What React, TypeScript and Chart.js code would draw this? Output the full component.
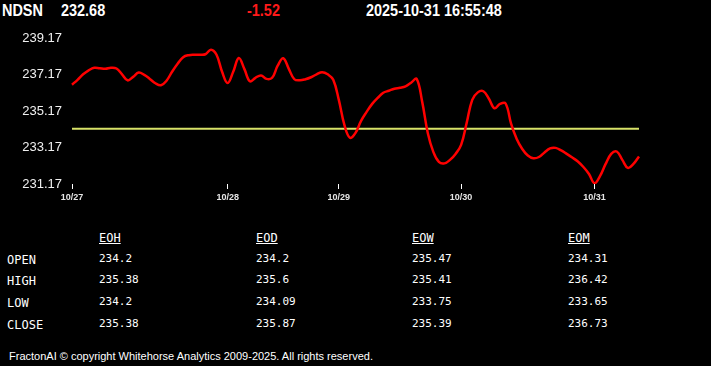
import React, { useEffect, useRef } from 'react';
import { Chart, registerables } from 'chart.js';

Chart.register(...registerables);

const symbol = 'NDSN';
const lastPrice = '232.68';
const priceChange = '-1.52';
const timestamp = '2025-10-31 16:55:48';

const days = ['10/27', '10/28', '10/29', '10/30', '10/31'];
const pointsPerDay = [28, 20, 22, 24, 9];

const prices = [
  236.61, 236.88, 237.18, 237.40, 237.54, 237.51, 237.48, 237.54, 237.50, 237.18,
  236.85, 237.04, 237.28, 237.15, 236.93, 236.69, 236.58, 236.83, 237.32, 237.76,
  238.12, 238.23, 238.25, 238.25, 238.28, 238.53, 238.25, 237.32,
  236.70, 237.32, 238.07, 237.48, 236.80, 236.99, 237.12, 236.93, 236.99, 237.65,
  238.06, 237.48, 236.91, 236.85, 236.91, 237.02, 237.18, 237.30, 237.18, 236.88,
  235.78, 234.41, 233.70, 233.97, 234.63, 235.12, 235.56, 235.89, 236.17, 236.28,
  236.39, 236.44, 236.52, 236.72, 236.93, 235.67, 233.97, 232.93, 232.38, 232.30,
  232.49, 232.82,
  233.31, 234.52, 235.78, 236.19, 236.25, 235.84, 235.32, 235.56, 235.58, 234.46,
  233.64, 233.09, 232.73, 232.58, 232.65, 232.90, 233.12, 233.15, 233.01, 232.82,
  232.62, 232.40, 232.10, 231.72,
  231.21, 231.61, 232.27, 232.82, 232.95, 232.49, 232.05, 232.27, 232.68,
];

const referenceLevel = 234.2;
const yMin = 231.17;
const yMax = 239.17;
const yStep = 2;

const tableColumns = ['EOH', 'EOD', 'EOW', 'EOM'];
const tableRows = ['OPEN', 'HIGH', 'LOW', 'CLOSE'];
const eohValues = ['234.2', '235.38', '234.2', '235.38'];
const eodValues = ['234.2', '235.6', '234.09', '235.87'];
const eowValues = ['235.47', '235.41', '233.75', '235.39'];
const eomValues = ['234.31', '236.42', '233.65', '236.73'];
const tableValues = [eohValues, eodValues, eowValues, eomValues];

const footerText = 'FractonAI \u00A9 copyright Whitehorse Analytics 2009-2025. All rights reserved.';

// build category labels: day label at first point of each day
const labels: string[] = [];
days.forEach((d, di) => {
  for (let k = 0; k < pointsPerDay[di]; k++) labels.push(k === 0 ? d : '');
});

const sansFont = "'Liberation Sans', Arial, sans-serif";
const monoFont = "'DejaVu Sans Mono', 'Liberation Mono', monospace";

const colLeft = [99, 256, 412, 568];
const rowCenter = [260, 281, 303, 325];

function Text(props: { x: number; cy: number; size: number; font: string; color?: string; bold?: boolean; underline?: boolean; children: React.ReactNode; sx?: number }) {
  const h = 20;
  return (
    <div
      style={{
        position: 'absolute',
        left: props.x,
        top: props.cy - h / 2,
        height: h,
        lineHeight: h + 'px',
        fontSize: props.size,
        fontFamily: props.font,
        fontWeight: props.bold ? 'bold' : 'normal',
        color: props.color || '#fff',
        textDecoration: props.underline ? 'underline' : 'none',
        whiteSpace: 'nowrap',
        transform: props.sx ? `scaleX(${props.sx})` : undefined,
        transformOrigin: 'left center',
      }}
    >
      {props.children}
    </div>
  );
}

export default function App() {
  const canvasRef = useRef<HTMLCanvasElement | null>(null);

  useEffect(() => {
    document.body.style.margin = '0';
    document.body.style.background = '#000';
    const canvas = canvasRef.current;
    if (!canvas) return;
    const chart = new Chart(canvas, {
      type: 'line',
      data: {
        labels,
        datasets: [
          {
            data: prices,
            borderColor: '#ff0000',
            borderWidth: 2.5,
            pointRadius: 0,
            tension: 0.4,
            fill: false,
          },
          {
            data: labels.map(() => referenceLevel),
            borderColor: 'rgb(216,226,104)',
            borderWidth: 2,
            pointRadius: 0,
            tension: 0,
            fill: false,
          },
        ],
      },
      options: {
        animation: false,
        responsive: false,
        events: [],
        layout: { padding: { top: 38, right: 72, bottom: 0, left: 0 } },
        plugins: { legend: { display: false }, tooltip: { enabled: false } },
        scales: {
          x: {
            type: 'category',
            offset: false,
            border: { display: false },
            grid: {
              drawOnChartArea: false,
              drawTicks: true,
              tickLength: 5,
              lineWidth: 1,
              offset: false,
              color: (ctx: any) => (labels[ctx.index] ? '#ffffff' : 'rgba(0,0,0,0)'),
            },
            ticks: {
              autoSkip: false,
              maxRotation: 0,
              minRotation: 0,
              padding: 3,
              color: '#e6e6e6',
              font: { family: sansFont, size: 9, weight: 'bold' },
              callback: (_v: any, i: number) => labels[i],
            },
            afterFit: (scale: any) => {
              scale.height = 26;
            },
          },
          y: {
            min: yMin,
            max: yMax,
            border: { display: false },
            grid: { display: false, drawTicks: false },
            ticks: {
              stepSize: yStep,
              padding: 10,
              color: '#f0f0f0',
              font: { family: sansFont, size: 13 },
              callback: (v: any) => Number(v).toFixed(2),
            },
            afterFit: (scale: any) => {
              scale.width = 72;
            },
          },
        },
      },
    });
    return () => chart.destroy();
  }, []);

  return (
    <div style={{ position: 'fixed', left: 0, top: 0, width: 711, height: 366, background: '#000', overflow: 'hidden' }}>
      <Text x={2} cy={11} size={17} font={sansFont} bold sx={0.85}>{symbol}</Text>
      <Text x={61} cy={11} size={17} font={sansFont} bold sx={0.85}>{lastPrice}</Text>
      <Text x={247} cy={11} size={17} font={sansFont} bold sx={0.85} color="#ff1a1a">{priceChange}</Text>
      <Text x={366} cy={11} size={17} font={sansFont} bold sx={0.85}>{timestamp}</Text>

      <canvas ref={canvasRef} width={711} height={210} style={{ position: 'absolute', left: 0, top: 0 }} />

      {tableColumns.map((c, ci) => (
        <Text key={c} x={colLeft[ci]} cy={238} size={12} font={monoFont} underline>{c}</Text>
      ))}
      {tableRows.map((r, ri) => (
        <Text key={r} x={7} cy={rowCenter[ri]} size={12} font={monoFont}>{r}</Text>
      ))}
      {tableValues.map((col, ci) =>
        col.map((v, ri) => (
          <Text key={ci + '-' + ri} x={colLeft[ci]} cy={rowCenter[ri] - 1.5} size={11} font={monoFont}>{v}</Text>
        ))
      )}

      <Text x={9} cy={356} size={11} font={sansFont}>{footerText}</Text>
    </div>
  );
}
